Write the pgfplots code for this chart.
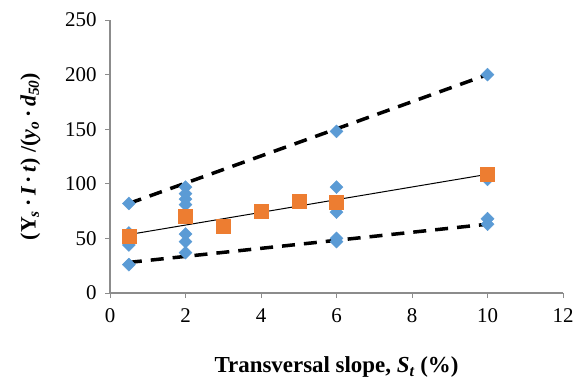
\documentclass[border=0pt]{standalone}
\usepackage{pgfplots}
\pgfplotsset{compat=1.18}
\usepackage{fontspec}
\setmainfont{Liberation Serif}
\definecolor{sblue}{HTML}{5B9BD5}
\definecolor{sorange}{HTML}{ED7D31}
\definecolor{axgray}{HTML}{8C8C8C}
\begin{document}
\begin{tikzpicture}[x=1bp,y=1bp]
\path[use as bounding box] (0,0) rectangle (580,380);
\begin{axis}[
  at={(110bp,87bp)}, anchor=south west,
  scale only axis, width=453bp, height=273bp,
  xmin=0, xmax=12, ymin=0, ymax=250,
  xtick={0,2,...,12}, ytick={0,50,...,250},
  axis x line*=bottom, axis y line*=left,
  axis line style={axgray, line width=1.2pt},
  every tick/.style={axgray, line width=1pt},
  tick align=outside, major tick length=5bp,
  tick label style={font=\fontsize{21}{23}\selectfont},
  /pgf/number format/assume math mode=true,
  x tick label style={yshift=-7bp},
  y tick label style={xshift=-5bp},
  clip=false,
  xlabel={\textbf{Transversal slope, \textit{S\textsubscript{t}} (\%)}},
  xlabel style={font=\fontsize{23}{25}\selectfont, at={(axis description cs:0.5,0)}, anchor=north, yshift=-60bp},
  ylabel={\textbf{(Y\textsubscript{\textit{s}}\,·\,\textit{I}\,·\,\textit{t}) /(\textit{y\textsubscript{o}}\,·\,\textit{d\textsubscript{50}})}},
  ylabel style={font=\fontsize{22}{24}\selectfont, at={(axis description cs:0,0.5)}, anchor=south, yshift=66bp},
]
\addplot[only marks, mark=square*, mark size=4.6bp, color=sblue, mark options={fill=sblue, draw=sblue, rotate=45}] coordinates {
(0.5,82)(0.5,55)(0.5,44)(0.5,26)
(2,97)(2,91)(2,86)(2,81)(2,54)(2,47)(2,37)
(6,148)(6,97)(6,74)(6,50)(6,47)
(10,200)(10,104)(10,68)(10,63)
};
\addplot[only marks, mark=square*, mark size=7bp, color=sorange, mark options={fill=sorange, draw=sorange}] coordinates {
(0.5,52)(2,70)(3,61)(4,75)(5,84)(6,83)(10,109)
};
\addplot[black, line width=3.5bp, dash pattern=on 13bp off 9bp] coordinates {(0.5,82)(10,200)};
\addplot[black, line width=3.5bp, dash pattern=on 13bp off 9bp] coordinates {(0.5,28)(10,63)};
\addplot[black, line width=1bp] coordinates {(0.5,53.5)(10,108.7)};
\end{axis}
\end{tikzpicture}
\end{document}
